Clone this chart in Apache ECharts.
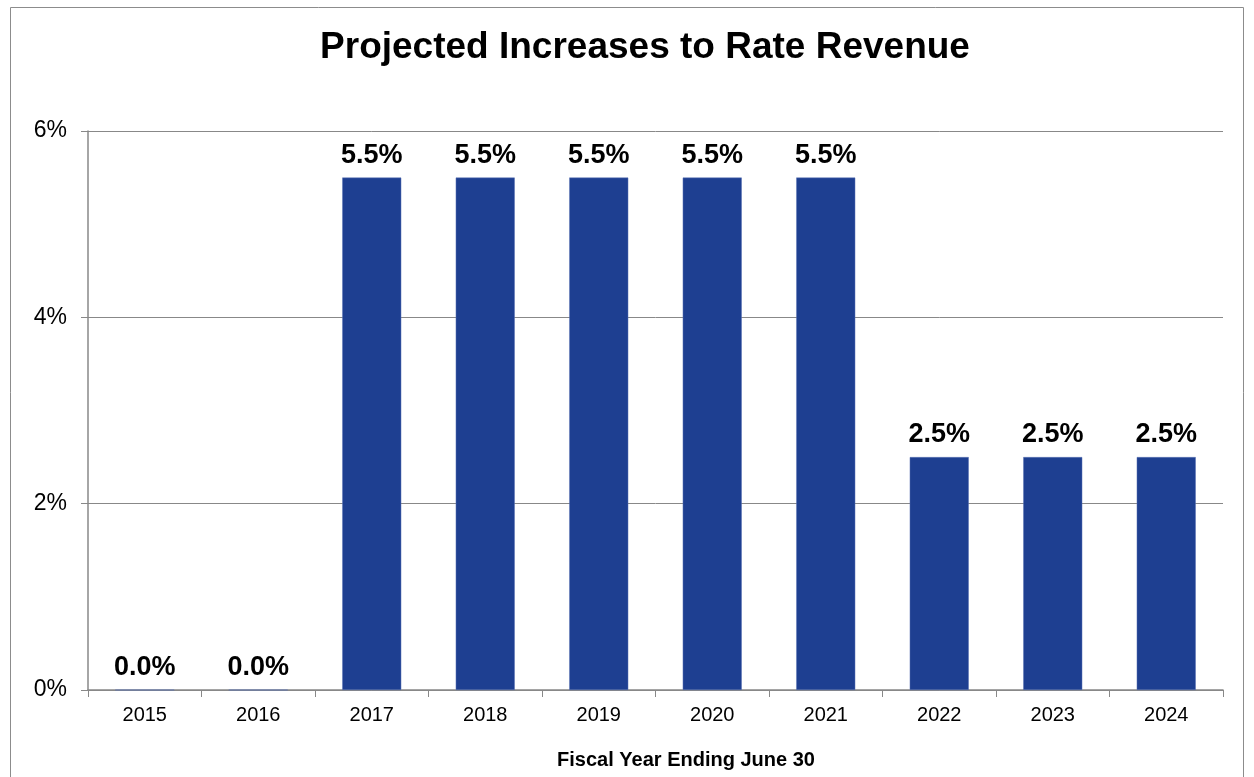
<!DOCTYPE html>
<html><head><meta charset="utf-8">
<script src="https://cdn.jsdelivr.net/npm/echarts@6/dist/echarts.min.js"></script>
<style>html,body{margin:0;padding:0;background:#fff}#c{width:1254px;height:777px}</style>
</head><body><div id="c"></div>
<script>
const categories = ['2015','2016','2017','2018','2019','2020','2021','2022','2023','2024'];
const values = [0.0, 0.0, 5.5, 5.5, 5.5, 5.5, 5.5, 2.5, 2.5, 2.5];
const yTicks = [0, 2, 4, 6];
const titleText = 'Projected Increases to Rate Revenue';
const xAxisTitle = 'Fiscal Year Ending June 30';

const chart = echarts.init(document.getElementById('c'));
chart.setOption({
  animation: false,
  textStyle: {fontFamily: 'Liberation Sans, Arial, sans-serif'},
  title: {text: titleText, left: 640, textAlign: 'center', top: 24,
    textStyle: {fontSize: 37, fontWeight: 'bold', color: '#000', fontFamily: 'Liberation Sans, Arial, sans-serif'}},
  graphic: [
    {type: 'rect', shape: {x: 10.5, y: 7.5, width: 1233, height: 800}, style: {fill: 'none', stroke: '#8c8c8c', lineWidth: 1}, silent: true},
    {type: 'text', x: 686, y: 760, style: {text: xAxisTitle, fill: '#000', font: 'bold 20px "Liberation Sans", Arial, sans-serif', textAlign: 'center', textVerticalAlign: 'middle'}}
  ],
  grid: {left: 88, right: 31, top: 131, bottom: 87},
  xAxis: {type: 'category', data: categories,
    axisLine: {lineStyle: {color: '#888', width: 1.5}},
    axisTick: {show: true, length: 7, lineStyle: {color: '#888'}},
    axisLabel: {fontSize: 20, color: '#000', margin: 15}},
  yAxis: {type: 'value', min: 0, max: 6, interval: 2,
    axisLine: {show: true, lineStyle: {color: '#888', width: 1.5}},
    axisTick: {show: true, length: 7, lineStyle: {color: '#888'}},
    splitLine: {lineStyle: {color: '#888', width: 1}},
    axisLabel: {fontSize: 23, color: '#000', margin: 21, padding: [5, 0, 0, 0], formatter: v => yTicks.includes(v) ? v + '%' : ''}},
  series: [{type: 'bar', data: values, barCategoryGap: '48%',
    itemStyle: {color: '#1E3F91', borderColor: '#5b73b5', borderWidth: 0.5},
    label: {show: true, position: 'top', distance: 9, fontSize: 27, fontWeight: 'bold', color: '#000',
      formatter: p => p.value.toFixed(1) + '%'}}]
});
</script></body></html>
